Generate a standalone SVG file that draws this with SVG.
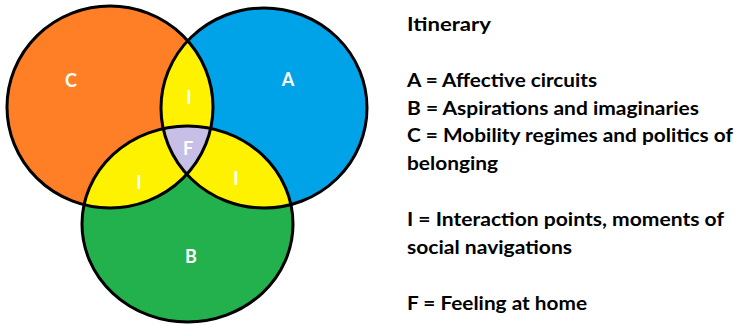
<svg xmlns="http://www.w3.org/2000/svg" width="737" height="325" viewBox="0 0 737 325">
<style>
.outline{fill:none;stroke:#000;stroke-width:3}
.lbl{font-family:Lato,"Open Sans","Liberation Sans",sans-serif;font-weight:700;font-size:18px;fill:#fff;text-anchor:middle}
.leg{font-family:Lato,"Open Sans","Liberation Sans",sans-serif;font-weight:700;font-size:19.5px;fill:#000}
</style>
<defs>
<ellipse id="eC" cx="110" cy="107" rx="103" ry="101"/>
<ellipse id="eA" cx="264" cy="108" rx="103" ry="100"/>
<ellipse id="eB" cx="187.5" cy="224" rx="105.5" ry="98"/>
<clipPath id="clipC"><use href="#eC"/></clipPath>
<clipPath id="clipA"><use href="#eA"/></clipPath>
<clipPath id="clipB"><use href="#eB"/></clipPath>
</defs>
<rect width="737" height="325" fill="#fff"/>
<g id="fills">
<use href="#eC" fill="#FF7F27"/>
<use href="#eA" fill="#00A2E8"/>
<use href="#eB" fill="#22B14C"/>
<g clip-path="url(#clipC)"><use href="#eA" fill="#FFF200"/><use href="#eB" fill="#FFF200"/></g>
<g clip-path="url(#clipA)"><use href="#eB" fill="#FFF200"/></g>
<g clip-path="url(#clipC)"><g clip-path="url(#clipA)"><use href="#eB" fill="#C8BFE7"/></g></g>
</g>
<g id="circle-C"><use href="#eC" class="outline"/><text class="lbl" x="71" y="87">C</text></g>
<g id="circle-A"><use href="#eA" class="outline"/><text class="lbl" x="288" y="86">A</text></g>
<g id="circle-B"><use href="#eB" class="outline"/><text class="lbl" x="191" y="263">B</text></g>
<g id="region-I-top"><text class="lbl" x="189" y="104">I</text></g>
<g id="region-I-left"><text class="lbl" x="139" y="189">I</text></g>
<g id="region-I-right"><text class="lbl" x="236" y="185">I</text></g>
<g id="region-F"><text class="lbl" x="188" y="155">F</text></g>
<g id="connectors"></g>
<g id="legend">
<text class="leg" x="407" y="31" textLength="84" lengthAdjust="spacingAndGlyphs">Itinerary</text>
<text class="leg" x="407" y="87" textLength="190" lengthAdjust="spacingAndGlyphs">A = Affective circuits</text>
<text class="leg" x="407" y="115" textLength="292" lengthAdjust="spacingAndGlyphs">B = Aspirations and imaginaries</text>
<text class="leg" x="407" y="142" textLength="326" lengthAdjust="spacingAndGlyphs">C = Mobility regimes and politics of</text>
<text class="leg" x="407" y="170" textLength="91" lengthAdjust="spacingAndGlyphs">belonging</text>
<text class="leg" x="407" y="226" textLength="317" lengthAdjust="spacingAndGlyphs">I = Interaction points, moments of</text>
<text class="leg" x="407" y="254" textLength="165" lengthAdjust="spacingAndGlyphs">social navigations</text>
<text class="leg" x="407" y="310" textLength="180" lengthAdjust="spacingAndGlyphs">F = Feeling at home</text>
</g>
</svg>
